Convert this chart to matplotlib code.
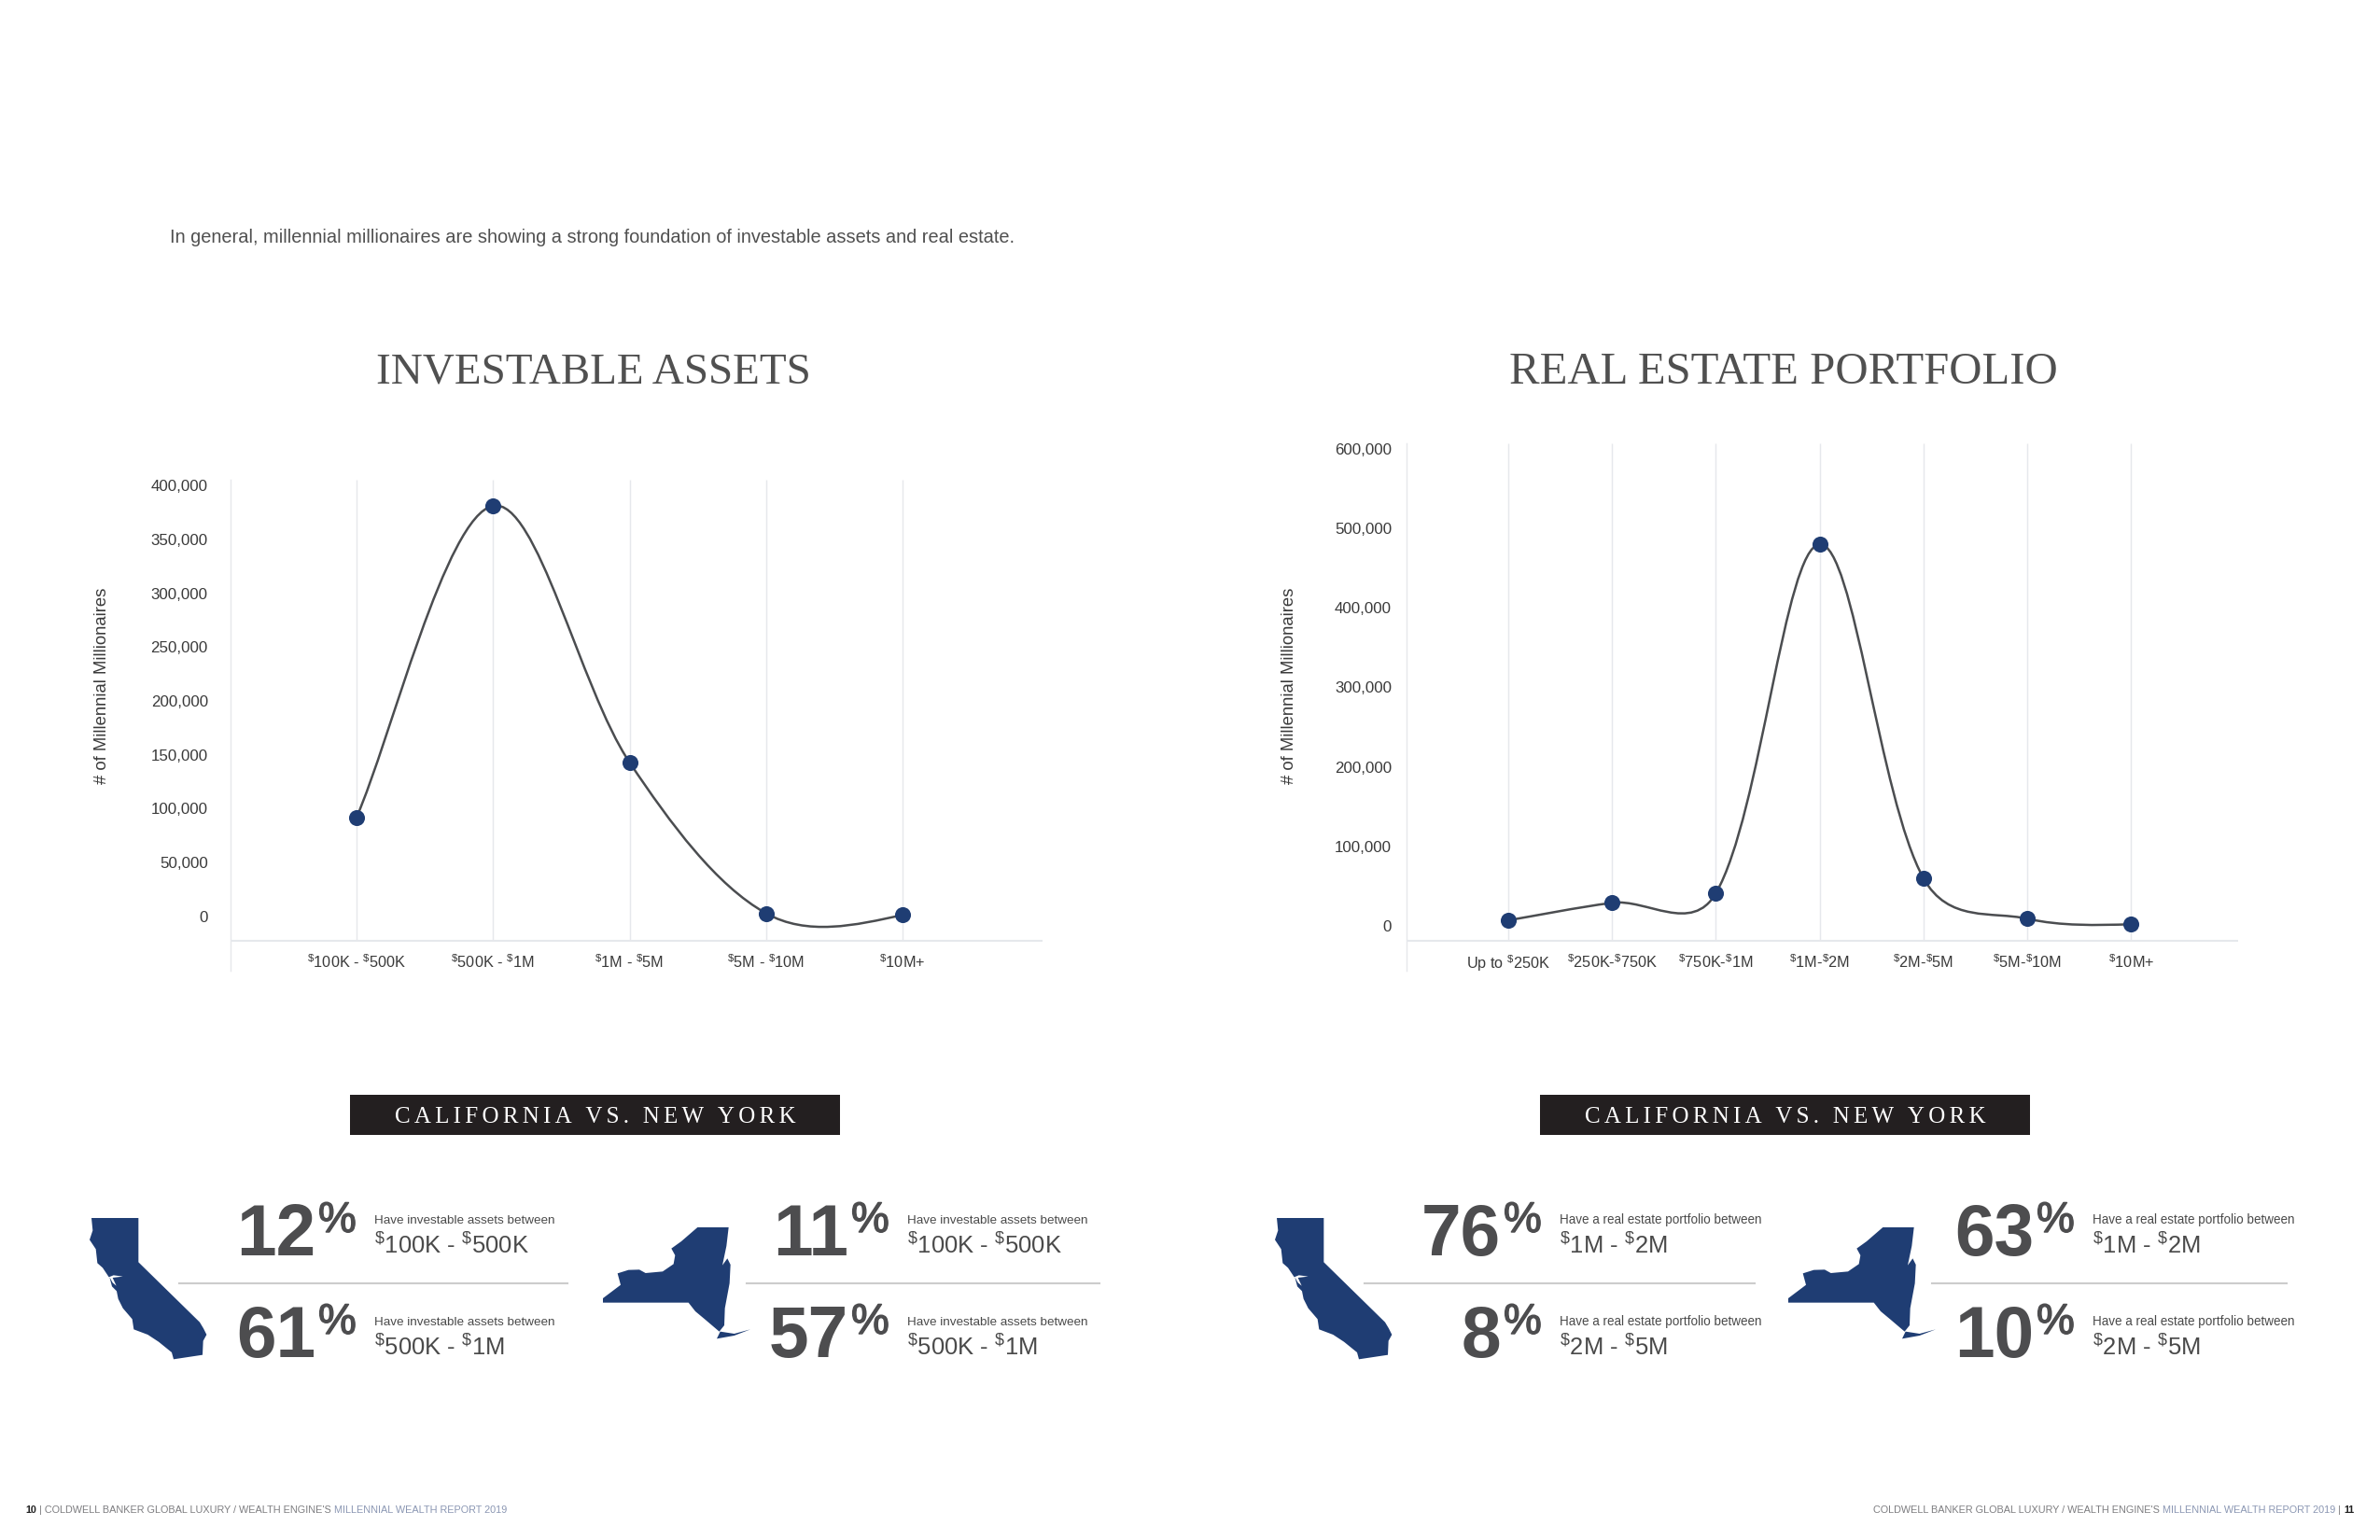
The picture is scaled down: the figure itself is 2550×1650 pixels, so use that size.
import matplotlib
matplotlib.use("Agg")
import matplotlib.pyplot as plt
import matplotlib.patheffects as pe
from matplotlib.path import Path
from matplotlib.patches import PathPatch, Polygon, Rectangle

# Data
invest_labels = ["$^{\\$}$100K - $^{\\$}$500K", "$^{\\$}$500K - $^{\\$}$1M", "$^{\\$}$1M - $^{\\$}$5M",
                 "$^{\\$}$5M - $^{\\$}$10M", "$^{\\$}$10M+"]
invest_values = [92000, 381000, 143000, 3000, 1500]
invest_ticks = [0, 50000, 100000, 150000, 200000, 250000, 300000, 350000, 400000]

estate_labels = ["Up to $^{\\$}$250K", "$^{\\$}$250K-$^{\\$}$750K", "$^{\\$}$750K-$^{\\$}$1M", "$^{\\$}$1M-$^{\\$}$2M",
                 "$^{\\$}$2M-$^{\\$}$5M", "$^{\\$}$5M-$^{\\$}$10M", "$^{\\$}$10M+"]
estate_values = [7000, 29000, 41000, 480000, 60000, 9000, 2000]
estate_ticks = [0, 100000, 200000, 300000, 400000, 500000, 600000]

invest_ca = ["12", "61"]
invest_ny = ["11", "57"]
estate_ca = ["76", "8"]
estate_ny = ["63", "10"]
invest_ranges = ["$^{\\$}$100K - $^{\\$}$500K", "$^{\\$}$500K - $^{\\$}$1M"]
estate_ranges = ["$^{\\$}$1M - $^{\\$}$2M", "$^{\\$}$2M - $^{\\$}$5M"]

ca_outline = [(24, 30), (175, 30), (175, 172), (372, 365), (384, 385), (394, 405), (383, 425), (381, 470), (288, 484),
              (282, 462), (240, 428), (205, 405), (160, 388), (155, 355), (125, 320), (110, 290), (105, 265), (90, 250),
              (82, 220), (92, 238), (104, 248), (92, 222), (125, 218), (95, 214), (80, 220), (60, 190), (43, 175),
              (38, 130), (18, 100), (28, 70)]
ny_outline = [(322, 30), (422, 30), (415, 90), (402, 152), (418, 130), (428, 150), (425, 210), (410, 290), (408, 345),
              (392, 365), (345, 325), (315, 300), (293, 272), (18, 272), (18, 258), (75, 215), (65, 178), (100, 167),
              (135, 166), (155, 177), (210, 172), (245, 148), (250, 120), (238, 98), (270, 75)]
ny_island = [(384, 388), (395, 365), (440, 372), (492, 358), (440, 378)]

NAVY = "#1f3d73"
GRID = "#e6e8ec"
DARK = "#3a3a3a"
W, H = 2550, 1650

plt.rcParams["mathtext.default"] = "regular"
plt.rcParams["font.family"] = ["Liberation Sans", "DejaVu Sans"]

fig = plt.figure(figsize=(8.5, 5.5), dpi=300, facecolor="white")

# full page axes in pixels for everything which isn't a chart
page = fig.add_axes([0, 0, 1, 1])
page.set_xlim(0, W)
page.set_ylim(H, 0)
page.axis("off")


def smooth_path(xs, ys, sx, sy):
    # office style smoothing: handle length follows the (square root of) chord length on screen
    n = len(xs)
    out = [None] * n
    back = [None] * n
    for i in range(1, n - 1):
        d1 = (((sx * (xs[i] - xs[i - 1])) ** 2 + (sy * (ys[i] - ys[i - 1])) ** 2) ** 0.5) ** 0.5
        d2 = (((sx * (xs[i + 1] - xs[i])) ** 2 + (sy * (ys[i + 1] - ys[i])) ** 2) ** 0.5) ** 0.5
        dx = xs[i + 1] - xs[i - 1]
        dy = ys[i + 1] - ys[i - 1]
        out[i] = (xs[i] + dx * d2 / (d1 + d2) / 3, ys[i] + dy * d2 / (d1 + d2) / 3)
        back[i] = (xs[i] - dx * d1 / (d1 + d2) / 3, ys[i] - dy * d1 / (d1 + d2) / 3)
    # start runs along the chord, the last point leans half way to the previous handle
    out[0] = (xs[0] + (xs[1] - xs[0]) / 4, ys[0] + (ys[1] - ys[0]) / 4)
    back[n - 1] = ((xs[n - 1] + out[n - 2][0]) / 2, (ys[n - 1] + out[n - 2][1]) / 2)

    verts = [(xs[0], ys[0])]
    codes = [Path.MOVETO]
    for i in range(n - 1):
        verts += [out[i], back[i + 1], (xs[i + 1], ys[i + 1])]
        codes += [Path.CURVE4, Path.CURVE4, Path.CURVE4]
    return Path(verts, codes)


def line_chart(labels, values, ticks, left, right, top, first_x, step_x, zero_y, top_tick_y, ypad):
    bottom = 1040
    base = 1008
    ax = fig.add_axes([left / W, 1 - bottom / H, (right - left) / W, (bottom - top) / H])
    per_px = ticks[-1] / (zero_y - top_tick_y)
    ax.set_ylim((zero_y - bottom) * per_px, (zero_y - top) * per_px)
    ax.set_xlim((left - first_x) / step_x, (right - first_x) / step_x)
    baseline = (zero_y - base) * per_px
    xs = list(range(len(values)))

    ax.vlines(xs, baseline, ax.get_ylim()[1], color=GRID, lw=0.35, zorder=1)
    ax.axhline(baseline, color=GRID, lw=0.5, zorder=1)
    ax.add_patch(PathPatch(smooth_path(xs, values, step_x, 1 / per_px), fc="none", ec="#4b4d50", lw=0.6, zorder=2))
    ax.plot(xs, values, "o", color=NAVY, ms=4.1, mew=0, zorder=3, clip_on=False)

    for s in ["top", "right", "bottom"]:
        ax.spines[s].set_visible(False)
    ax.spines["left"].set_color(GRID)
    ax.spines["left"].set_linewidth(0.35)
    ax.patch.set_alpha(0)

    ax.set_yticks(ticks)
    ax.set_yticklabels([f"{t:,}" for t in ticks], fontsize=4.05, color=DARK)
    ax.set_xticks(xs)
    ax.set_xticklabels(labels, fontsize=3.9, color=DARK)
    ax.tick_params(axis="y", length=0, pad=ypad)
    ax.tick_params(axis="x", length=0, pad=-4.4)
    return ax


line_chart(invest_labels, invest_values, invest_ticks, 247, 1117, 514, 382, 146.25, 982, 520, 5.8)
line_chart(estate_labels, estate_values, estate_ticks, 1507, 2398, 475, 1616, 111.2, 992, 481, 3.85)

# header text
page.text(182, 254, "In general, millennial millionaires are showing a strong foundation of investable assets and real estate.",
          fontsize=4.81, color="#505050", va="center")
page.text(636, 399, "INVESTABLE ASSETS", family="Liberation Serif", fontsize=11.3, color="#505050", ha="center", va="center")
page.text(1911, 399, "REAL ESTATE PORTFOLIO", family="Liberation Serif", fontsize=11.7, color="#505050", ha="center", va="center")
page.text(109, 735, "# of Millennial Millionaires", rotation=90, fontsize=4.45, color=DARK, ha="center", va="center")
page.text(1382, 735, "# of Millennial Millionaires", rotation=90, fontsize=4.45, color=DARK, ha="center", va="center")

# banners
for dx in [0, 1275]:
    page.add_patch(Rectangle((375 + dx, 1173), 525, 43, fc="#231f20", ec="none"))
    page.text(638 + dx, 1197, "\u200a\u200a".join("CALIFORNIA VS. NEW YORK"), family="Liberation Serif",
              fontsize=6.0, color="white", ha="center", va="center")


def ca_shape(dx):
    pts = [(90 + x / 3 + dx, 1295 + y / 3) for x, y in ca_outline]
    page.add_patch(Polygon(pts, fc=NAVY, ec="none"))


def ny_shape(dx):
    for outline in [ny_outline, ny_island]:
        pts = [(640 + x / 3 + dx, 1305 + y / 3) for x, y in outline]
        page.add_patch(Polygon(pts, fc=NAVY, ec="none"))


def stats(pcts, ranges, caption, cap_size, num_right, rule_left, rule_right):
    text_x = num_right + 64
    for pct, rng, base in zip(pcts, ranges, [1345, 1454]):
        page.text(num_right + 1, base, pct, fontsize=18.4, fontweight="bold", color="#4d4d4f", ha="right", va="baseline")
        sign = page.text(num_right + 4, base - 25, "%", fontsize=11, color="#4d4d4f", va="baseline")
        # the % in the report is a heavier cut than regular
        sign.set_path_effects([pe.withStroke(linewidth=0.35, foreground="#4d4d4f")])
        page.text(text_x, base - 34, caption, fontsize=cap_size, color="#4a4a4a", va="baseline")
        page.text(text_x, base - 2, rng, fontsize=6.15, color="#4a4a4a", va="baseline")
    page.plot([rule_left, rule_right], [1375, 1375], color="#cccccc", lw=0.5)


invest_caption = "Have investable assets between"
estate_caption = "Have a real estate portfolio between"

ca_shape(0)
ny_shape(0)
stats(invest_ca, invest_ranges, invest_caption, 3.24, 337, 192, 608)
stats(invest_ny, invest_ranges, invest_caption, 3.24, 908, 800, 1178)
ca_shape(1270)
ny_shape(1270)
stats(estate_ca, estate_ranges, estate_caption, 3.26, 1607, 1462, 1880)
stats(estate_ny, estate_ranges, estate_caption, 3.26, 2178, 2070, 2450)


# footers, pieces in different colours laid end to end
def text_row(x, y, parts, align="left"):
    r = fig.canvas.get_renderer()
    made = []
    for s, color, weight in parts:
        made.append(page.text(0, y, s, fontsize=2.62, color=color, fontweight=weight, va="center"))
    widths = [t.get_window_extent(r).width * W / fig.bbox.width for t in made]
    pos = x if align == "left" else x - sum(widths)
    for t, w in zip(made, widths):
        t.set_x(pos)
        pos += w


GREY = "#7d7d80"
BLUE = "#8b97b3"
text_row(27, 1618, [("10", "#222222", "bold"), (" | COLDWELL BANKER GLOBAL LUXURY / WEALTH ENGINE'S ", GREY, "normal"),
                    ("MILLENNIAL WEALTH REPORT 2019", BLUE, "normal")])
text_row(2522, 1618, [("COLDWELL BANKER GLOBAL LUXURY / WEALTH ENGINE'S ", GREY, "normal"),
                      ("MILLENNIAL WEALTH REPORT 2019", BLUE, "normal"), (" | ", GREY, "normal"), ("11", "#222222", "bold")],
         align="right")

fig.savefig("out.png", dpi=300, facecolor="white")
